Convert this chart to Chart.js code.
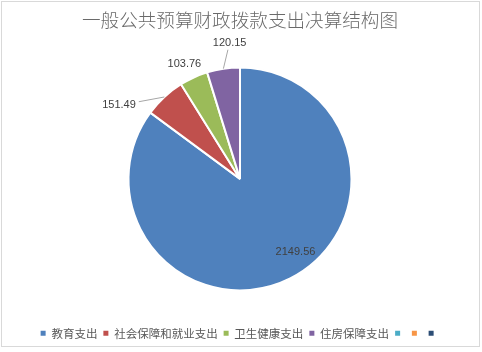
<!DOCTYPE html>
<html>
<head>
<meta charset="utf-8">
<script src="https://cdn.jsdelivr.net/npm/chart.js@4"></script>
<style>
  html, body { margin: 0; padding: 0; background: #fff; }
  #wrap { position: relative; width: 482px; height: 352px; }
  #frame { position: absolute; left: 1px; top: 1px; width: 479px; height: 346px;
           border: 1px solid #d9d9d9; box-sizing: border-box; }
  #pieChart { position: absolute; left: 0; top: 0; }
</style>
</head>
<body>
<div id="wrap">
  <div id="frame"></div>
  <canvas id="pieChart" width="482" height="352"></canvas>
</div>
<script>
// chart data
const chartTitle = '一般公共预算财政拨款支出决算结构图';
const categories = ['教育支出', '社会保障和就业支出', '卫生健康支出', '住房保障支出', '', '', ''];
const values = [2149.56, 151.49, 103.76, 120.15, null, null, null];
const colors = ['#4F81BD', '#C0504D', '#9BBB59', '#8064A2', '#4BACC6', '#F79646', '#2C4D75'];

// label placement (degrees off the slice middle, distance as part of radius)
const labelShift = [-10.6, -16, -1.3, 4.2];
const labelDist = [0.82, 1.27, 1.145, 1.225];

const valueLabels = {
    id: 'valueLabels',
    afterDatasetsDraw(chart) {
        const ctx = chart.ctx;
        const meta = chart.getDatasetMeta(0);
        ctx.save();
        ctx.font = '11px "Liberation Sans", Arial, sans-serif';
        ctx.fillStyle = '#404040';
        ctx.textAlign = 'center';
        ctx.textBaseline = 'middle';
        meta.data.forEach((arc, i) => {
            const v = values[i];
            if (v == null) return;
            const p = arc.getProps(['x', 'y', 'startAngle', 'endAngle', 'outerRadius'], true);
            const mid = (p.startAngle + p.endAngle) / 2;
            const a = mid + labelShift[i] * Math.PI / 180;
            const r = p.outerRadius * labelDist[i];
            const lx = p.x + r * Math.cos(a);
            const ly = p.y + r * Math.sin(a);
            const text = v.toFixed(2);

            if (labelDist[i] > 1) {
                // leader line from slice edge to label box
                const ex = p.x + p.outerRadius * Math.cos(mid);
                const ey = p.y + p.outerRadius * Math.sin(mid);
                const hw = ctx.measureText(text).width / 2 + 3;
                const hh = 7;
                const dx = ex - lx, dy = ey - ly;
                const t = Math.min(dx ? hw / Math.abs(dx) : Infinity, dy ? hh / Math.abs(dy) : Infinity);
                const bx = lx + dx * t, by = ly + dy * t;
                if (t < 1 && Math.hypot(ex - bx, ey - by) > 10) {
                    ctx.beginPath();
                    ctx.moveTo(ex, ey);
                    ctx.lineTo(bx, by);
                    ctx.strokeStyle = '#a6a6a6';
                    ctx.lineWidth = 1;
                    ctx.stroke();
                }
            }
            ctx.fillText(text, lx, ly);
        });
        ctx.restore();
    }
};

const ctx = document.getElementById('pieChart').getContext('2d');

new Chart(ctx, {
    type: 'pie',
    data: {
        labels: categories,
        datasets: [{
            data: values,
            backgroundColor: colors,
            borderColor: '#ffffff',
            borderWidth: 2,
            radius: 111.5
        }]
    },
    options: {
        responsive: false,
        animation: false,
        layout: {
            padding: { top: 9, bottom: 3, left: 0, right: 2 }
        },
        plugins: {
            title: {
                display: true,
                text: chartTitle,
                color: '#6a6a6a',
                font: { family: '"Noto Sans CJK SC", sans-serif', size: 18.6, weight: '300' },
                padding: { top: 0, bottom: 5 }
            },
            legend: {
                position: 'bottom',
                labels: {
                    boxWidth: 5,
                    boxHeight: 5,
                    padding: 6,
                    color: '#595959',
                    font: { family: '"Noto Sans CJK SC", sans-serif', size: 11.5 },
                    generateLabels(chart) {
                        return Chart.overrides.pie.plugins.legend.labels.generateLabels(chart)
                            .map(item => ({ ...item, lineWidth: 0 }));
                    }
                }
            },
            tooltip: { enabled: false }
        }
    },
    plugins: [valueLabels]
});
</script>
</body>
</html>
